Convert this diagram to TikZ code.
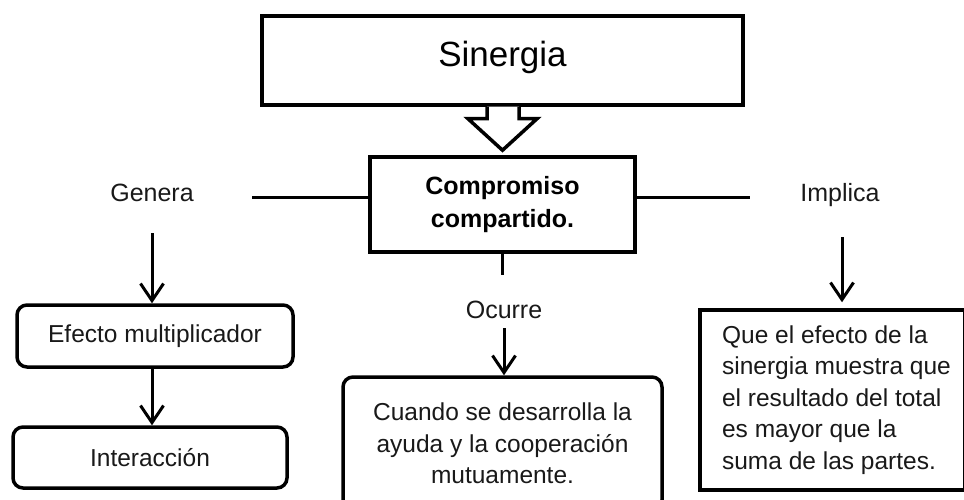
\documentclass[tikz,border=0pt]{standalone}
\usepackage{fontspec}
\setmainfont{Liberation Sans}
\usetikzlibrary{arrows.meta,calc}
\begin{document}
\begin{tikzpicture}[x=1pt,y=-1pt,line join=miter,
  boxline/.style={draw=black,line width=3.5pt},
  sqbox/.style={boxline,rectangle,inner sep=0pt,fill=white},
  rbox/.style={boxline,rectangle,rounded corners=10pt,inner sep=0pt,fill=white},
  lbl/.style={font=\fontsize{25}{30}\selectfont,inner sep=0pt,text=black!90},
  boxtext/.style={font=\fontsize{24.5}{31.5}\selectfont,text=black!90},
  conn/.style={line width=3pt},
  arr/.style={conn,-{Straight Barb[length=17pt,width=23pt,line width=3pt]}}
]
\path[use as bounding box] (0,0) rectangle (964,500);

% nodes
\node[sqbox,minimum width=481pt,minimum height=89pt,text depth=14pt,font=\fontsize{35}{40}\selectfont] (sin) at (502.5,60.5) {Sinergia};
\node[sqbox,minimum width=265pt,minimum height=95pt,align=center,font=\bfseries\fontsize{25}{33}\selectfont] (comp) at (502.5,204.5) {Compromiso\\compartido.};

\node[lbl] (gen) at (152,193) {Genera};
\node[lbl] (ocu) at (504,310) {Ocurre};
\node[lbl] (imp) at (840,195) {Implica};

\node[rbox,boxtext,minimum width=276pt,minimum height=62pt] (eff) at (155,336) {Efecto multiplicador};
\node[rbox,boxtext,minimum width=274pt,minimum height=61pt] (inter) at (150,457.5) {Interacción};
\node[rbox,boxtext,minimum width=319pt,minimum height=133pt,align=center] (cua) at (502.5,443.5) {Cuando se desarrolla la\\ayuda y la cooperación\\mutuamente.};
\node[sqbox,boxtext,minimum width=265pt,minimum height=180pt,align=left] (imb) at (832.5,400) {\hspace*{8pt}Que el efecto de la\\\hspace*{8pt}sinergia muestra que\\\hspace*{8pt}el resultado del total\\\hspace*{8pt}es mayor que la\\\hspace*{8pt}suma de las partes.};

% block arrow
\draw[boxline,fill=white] ($(sin.south)+(-15.5,0)$) -- ++(0,12) -- ++(-19,0)
  -- ($(comp.north)+(0,-5)$) -- ($(sin.south)+(34.5,12)$) -- ++(-18,0) -- ++(0,-12);

% connectors
\coordinate (gl) at (252,197);
\coordinate (gr) at (750,197);
\coordinate (cs) at (502.5,275);
\coordinate (ga) at (152,233);
\coordinate (oa) at (504,328);
\coordinate (ia) at (842,237);

\draw[conn] ($(comp.west)+(0,-7.5)$) -- (gl);
\draw[conn] ($(comp.east)+(0,-7.5)$) -- (gr);
\draw[conn] (comp.south) -- (cs);
\draw[arr] (ga) -- (ga |- eff.north);
\draw[arr] (eff.south -| ga) -- (inter.north -| ga);
\draw[arr] (oa) -- (oa |- cua.north);
\draw[arr,shorten >=6pt] (ia) -- (ia |- imb.north);
\end{tikzpicture}
\end{document}
